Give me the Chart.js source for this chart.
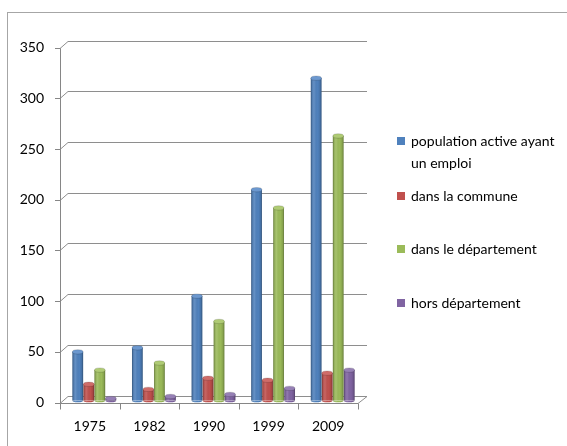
<!DOCTYPE html>
<html>
<head>
<meta charset="utf-8">
<script src="https://cdn.jsdelivr.net/npm/chart.js@4.4.1/dist/chart.umd.min.js"></script>
<style>
  html, body { margin: 0; padding: 0; background: #fff; overflow: hidden; }
  #wrap { position: relative; width: 567px; height: 446px; }
  #frame { position: absolute; left: 7px; top: 12px; width: 620px; height: 500px;
           border-top: 1px solid #a6a6a6; border-left: 1px solid #a6a6a6; }
  #chart { position: absolute; left: 0; top: 0; }
  #legend { position: absolute; left: 0; top: 0; font-family: Lato, sans-serif; font-size: 14px; color: #000; }
  .item { position: absolute; left: 397px; width: 158px; padding-left: 14px; line-height: 22px; }
  .sw { position: absolute; left: 0; width: 8px; height: 8px; }
</style>
</head>
<body>
<div id="wrap">
  <div id="frame"></div>
  <canvas id="chart" width="567" height="446"></canvas>
  <div id="legend"></div>
</div>
<script>
// Census years
const years = ['1975', '1982', '1990', '1999', '2009'];

// Series
const seriesNames = ['population active ayant un emploi', 'dans la commune', 'dans le département', 'hors département'];
const employed     = [48, 52, 103, 208, 318];
const inCommune    = [16, 11, 22, 20, 27];
const inDepartment = [30, 37, 78, 190, 261];
const outDepartment = [2, 4, 6, 12, 30];

// Y axis ticks
const yTicks = [0, 50, 100, 150, 200, 250, 300, 350];

const colors = ['#4F81BD', '#C0504D', '#9BBB59', '#8064A2'];
const capColors = ['#6C98CF', '#CF6C69', '#AFCB74', '#9680B5'];
const values = [employed, inCommune, inDepartment, outDepartment];

// Depth offset of the back wall and of the columns
const WALL_DX = 8, WALL_DY = -7;
const BAR_DX = 4.5, BAR_DY = -2;

const depthPlugin = {
  id: 'depth',
  beforeDatasetsDraw(chart) {
    const ctx = chart.ctx;
    const { left, right, bottom, top } = chart.chartArea;
    const y = chart.scales.y;
    ctx.save();
    ctx.lineWidth = 1;
    // back wall gridlines with diagonals to the front axis
    ctx.strokeStyle = '#8e8e8e';
    yTicks.forEach(v => {
      const py = Math.round(y.getPixelForValue(v)) + 0.5;
      ctx.beginPath();
      ctx.moveTo(left, py);
      ctx.lineTo(left + WALL_DX, py + WALL_DY);
      ctx.lineTo(right + WALL_DX + 1, py + WALL_DY);
      ctx.stroke();
    });
    // floor right edge
    const pb = Math.round(bottom) + 0.5;
    ctx.beginPath();
    ctx.moveTo(right, pb);
    ctx.lineTo(right + WALL_DX + 1, pb + WALL_DY);
    ctx.stroke();
    // front axes
    ctx.strokeStyle = '#868686';
    ctx.beginPath();
    ctx.moveTo(left + 0.5, Math.round(top) + 0.5);
    ctx.lineTo(left + 0.5, pb);
    ctx.lineTo(right, pb);
    yTicks.forEach(v => {
      const py = Math.round(y.getPixelForValue(v)) + 0.5;
      ctx.moveTo(left - 5, py);
      ctx.lineTo(left + 0.5, py);
    });
    const n = years.length;
    for (let k = 0; k <= n; k++) {
      const px = Math.round(left + k * (right - left) / n) + 0.5;
      ctx.moveTo(px, pb);
      ctx.lineTo(px, pb + 6);
    }
    ctx.stroke();
    ctx.restore();
    // columns stand a little behind the front plane
    ctx.save();
    ctx.translate(BAR_DX, BAR_DY);
  },
  afterDatasetsDraw(chart) {
    const ctx = chart.ctx;
    chart.data.datasets.forEach((ds, i) => {
      const meta = chart.getDatasetMeta(i);
      meta.data.forEach(bar => {
        const { x, y, base, width } = bar.getProps(['x', 'y', 'base', 'width'], true);
        const l = x - width / 2;
        // cylinder shading
        const g = ctx.createLinearGradient(l, 0, l + width, 0);
        g.addColorStop(0, 'rgba(0,0,0,0.18)');
        g.addColorStop(0.3, 'rgba(255,255,255,0.12)');
        g.addColorStop(0.65, 'rgba(0,0,0,0)');
        g.addColorStop(1, 'rgba(0,0,0,0.2)');
        ctx.fillStyle = g;
        ctx.fillRect(l, y, width, base - y);
        // rounded bottom
        ctx.beginPath();
        ctx.ellipse(x, base, width / 2, 1.8, 0, 0, Math.PI);
        ctx.fillStyle = colors[i];
        ctx.fill();
        ctx.fillStyle = g;
        ctx.fill();
        // thin darker outline
        ctx.strokeStyle = 'rgba(0,0,0,0.18)';
        ctx.lineWidth = 0.8;
        ctx.beginPath();
        ctx.moveTo(l + 0.4, y);
        ctx.lineTo(l + 0.4, base);
        ctx.moveTo(l + width - 0.4, y);
        ctx.lineTo(l + width - 0.4, base);
        ctx.stroke();
        // top cap
        ctx.beginPath();
        ctx.ellipse(x, y, width / 2, 2.2, 0, 0, Math.PI * 2);
        ctx.fillStyle = capColors[i];
        ctx.fill();
        ctx.stroke();
      });
    });
    ctx.restore();
  }
};

const chart = new Chart(document.getElementById('chart'), {
  type: 'bar',
  data: {
    labels: years,
    datasets: seriesNames.map((name, i) => ({
      label: name,
      data: values[i],
      backgroundColor: colors[i],
      borderWidth: 0,
      categoryPercentage: 0.74,
      barPercentage: 0.97
    }))
  },
  options: {
    responsive: false,
    animation: false,
    devicePixelRatio: 1,
    layout: { padding: { top: 47.7, right: 209, left: 0, bottom: 0 } },
    plugins: { legend: { display: false }, tooltip: { enabled: false } },
    scales: {
      x: {
        grid: { display: false, drawTicks: false },
        border: { display: false },
        ticks: { color: '#000', font: { family: 'Lato', size: 14 }, padding: 16, maxRotation: 0 },
        afterFit(s) { s.height = 43.5; }
      },
      y: {
        min: 0, max: 350,
        grid: { display: false, drawTicks: false },
        border: { display: false },
        ticks: { stepSize: 50, color: '#000', font: { family: 'Lato', size: 14 }, padding: 16 },
        afterFit(s) { s.width = 60; }
      }
    }
  },
  plugins: [depthPlugin]
});

// Legend
const legendTops = [141, 195.5, 248.5, 303];
const legend = document.getElementById('legend');
seriesNames.forEach((name, i) => {
  const item = document.createElement('div');
  item.className = 'item';
  item.style.top = (legendTops[i] - 11) + 'px';
  const sw = document.createElement('span');
  sw.className = 'sw';
  sw.style.background = colors[i];
  sw.style.top = '7px';
  item.appendChild(sw);
  item.appendChild(document.createTextNode(name));
  legend.appendChild(item);
});
</script>
</body>
</html>
